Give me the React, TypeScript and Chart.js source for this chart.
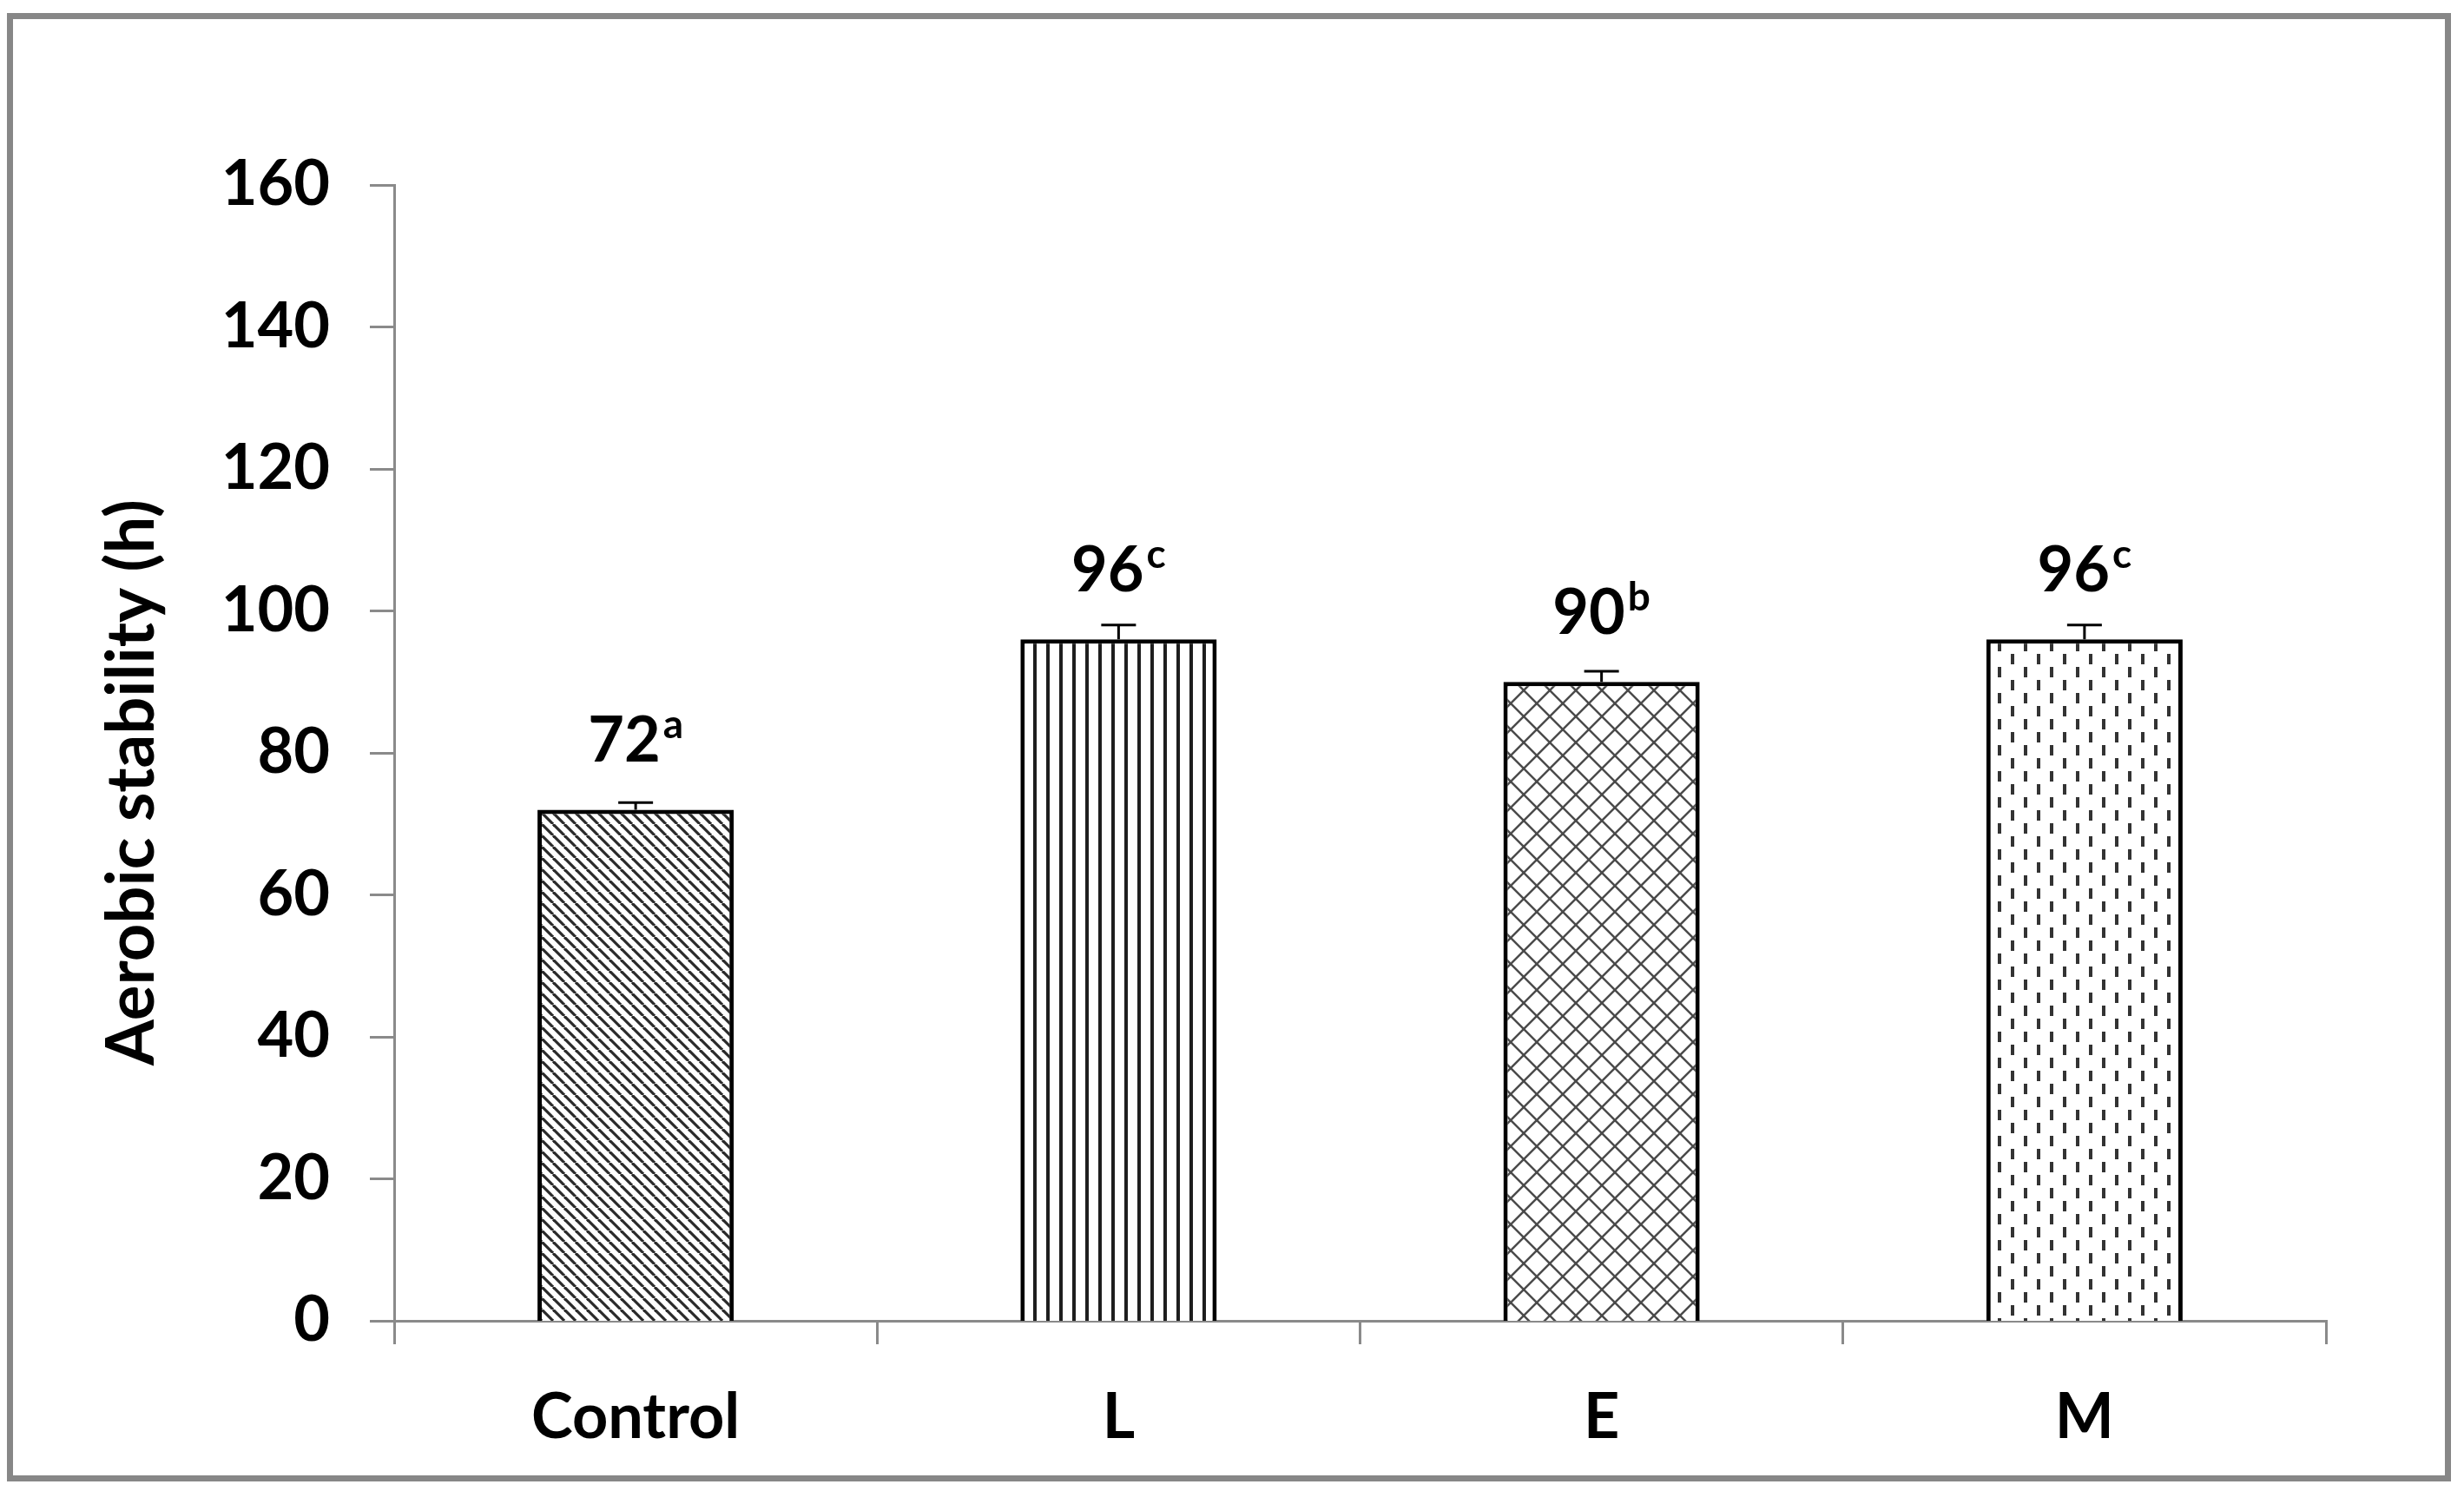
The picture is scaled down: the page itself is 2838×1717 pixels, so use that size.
import React, { useEffect, useRef } from 'react';
import { Chart, registerables } from 'chart.js';

Chart.register(...registerables);

const categories = ['Control', 'L', 'E', 'M'];
const values = [72, 96, 90, 96];
const errors = [1, 2, 1.5, 2];
const letters = ['a', 'c', 'b', 'c'];
const yMin = 0;
const yMax = 160;
const yStep = 20;
const yTitle = 'Aerobic stability (h)';

const FONT = 'Lato';
const AXIS_GRAY = '#8a8a8a';

function makePattern(kind: string): CanvasPattern | string {
  const tile = document.createElement('canvas');
  let size = 15;
  if (kind === 'diag') size = 13;
  if (kind === 'diamond' || kind === 'dash') size = 30;
  tile.width = size;
  tile.height = size;
  const c = tile.getContext('2d')!;
  c.fillStyle = '#ffffff';
  c.fillRect(0, 0, size, size);
  if (kind === 'diag') {
    c.strokeStyle = '#2a2a2a';
    c.lineWidth = 3.2;
    for (let k = -1; k <= 1; k++) {
      c.beginPath();
      c.moveTo(k * size, 0);
      c.lineTo(k * size + size, size);
      c.stroke();
    }
  } else if (kind === 'vert') {
    c.fillStyle = '#1e1e1e';
    c.fillRect(5, 0, 4, size);
  } else if (kind === 'diamond') {
    c.strokeStyle = '#4a4a4a';
    c.lineWidth = 2.5;
    for (let k = -1; k <= 1; k++) {
      c.beginPath();
      c.moveTo(k * size, 0);
      c.lineTo(k * size + size, size);
      c.stroke();
      c.beginPath();
      c.moveTo(k * size + size, 0);
      c.lineTo(k * size, size);
      c.stroke();
    }
  } else if (kind === 'dash') {
    c.fillStyle = '#333333';
    c.fillRect(6, 3, 4, 12);
    c.fillRect(21, 18, 4, 12);
  }
  return c.createPattern(tile, 'repeat') || '#ffffff';
}

const patternKinds = ['diag', 'vert', 'diamond', 'dash'];

export default function App() {
  const ref = useRef<HTMLCanvasElement | null>(null);

  useEffect(() => {
    document.body.style.margin = '0';
    document.body.style.overflow = 'hidden';
    let chart: Chart | null = null;
    let cancelled = false;

    const build = () => {
      if (cancelled || !ref.current) return;
      const fills = patternKinds.map((k) => makePattern(k));

      const framePlugin = {
        id: 'frame',
        beforeDraw(ch: any) {
          const ctx = ch.ctx;
          ctx.save();
          ctx.fillStyle = '#ffffff';
          ctx.fillRect(0, 0, ch.width, ch.height);
          ctx.restore();
        },
        afterDraw(ch: any) {
          const ctx = ch.ctx;
          ctx.save();
          ctx.strokeStyle = '#878787';
          ctx.lineWidth = 7;
          ctx.strokeRect(11.5, 18.5, 2808, 1684);
          // y axis title
          ctx.fillStyle = '#000000';
          ctx.font = `bold 76px ${FONT}`;
          ctx.textAlign = 'center';
          ctx.textBaseline = 'alphabetic';
          ctx.translate(177, 901);
          ctx.rotate(-Math.PI / 2);
          ctx.fillText(yTitle, 0, 0);
          ctx.restore();
        },
      };

      const annotPlugin = {
        id: 'annot',
        afterDatasetsDraw(ch: any) {
          const ctx = ch.ctx;
          const ys = ch.scales.y;
          const meta = ch.getDatasetMeta(0);
          ctx.save();
          meta.data.forEach((bar: any, i: number) => {
            const x = bar.x;
            const yBar = ys.getPixelForValue(values[i]);
            const yTop = ys.getPixelForValue(values[i] + errors[i]);
            ctx.strokeStyle = '#000000';
            ctx.lineWidth = 3;
            ctx.beginPath();
            ctx.moveTo(x, yBar);
            ctx.lineTo(x, yTop);
            ctx.moveTo(x - 20, yTop);
            ctx.lineTo(x + 20, yTop);
            ctx.stroke();

            const main = String(values[i]);
            const sup = letters[i];
            ctx.font = `bold 72px ${FONT}`;
            const w1 = ctx.measureText(main).width;
            ctx.font = `bold 46px ${FONT}`;
            const w2 = ctx.measureText(sup).width;
            const start = x - (w1 + w2 + 3) / 2;
            const base = yBar - 55;
            ctx.fillStyle = '#000000';
            ctx.textAlign = 'left';
            ctx.textBaseline = 'alphabetic';
            ctx.font = `bold 72px ${FONT}`;
            ctx.fillText(main, start, base);
            ctx.font = `bold 46px ${FONT}`;
            ctx.fillText(sup, start + w1 + 3, base - 27);
          });
          ctx.restore();
        },
      };

      chart = new Chart(ref.current, {
        type: 'bar',
        data: {
          labels: categories,
          datasets: [
            {
              data: values,
              backgroundColor: fills as any,
              borderColor: '#000000',
              borderWidth: 5,
              borderSkipped: false,
              base: -0.6,
              barPercentage: 0.4065,
              categoryPercentage: 1,
            } as any,
          ],
        },
        options: {
          animation: false,
          responsive: false,
          devicePixelRatio: 1,
          layout: { padding: { left: 0, top: 213, right: 159, bottom: 0 } },
          plugins: {
            legend: { display: false },
            tooltip: { enabled: false },
          },
          scales: {
            x: {
              type: 'category',
              offset: true,
              grid: {
                display: true,
                offset: true,
                drawOnChartArea: false,
                drawTicks: true,
                tickLength: 27,
                color: AXIS_GRAY,
                lineWidth: 3,
              },
              border: { display: true, color: AXIS_GRAY, width: 3 },
              ticks: {
                color: '#000000',
                font: { family: FONT, weight: 'bold', size: 72 },
                padding: 42,
              },
              afterFit(scale: any) {
                scale.height = 196;
              },
            },
            y: {
              min: yMin,
              max: yMax,
              grid: {
                display: true,
                drawOnChartArea: false,
                drawTicks: true,
                tickLength: 28,
                color: AXIS_GRAY,
                lineWidth: 3,
              },
              border: { display: true, color: AXIS_GRAY, width: 3 },
              ticks: {
                stepSize: yStep,
                color: '#000000',
                font: { family: FONT, weight: 'bold', size: 72 },
                padding: 46,
              },
              title: { display: false },
              afterFit(scale: any) {
                scale.width = 454;
              },
            },
          },
        },
        plugins: [framePlugin, annotPlugin],
      });
    };

    const fontsReady = (document as any).fonts
      ? Promise.all([
          (document as any).fonts.load(`bold 72px ${FONT}`),
          (document as any).fonts.load(`bold 76px ${FONT}`),
          (document as any).fonts.load(`bold 46px ${FONT}`),
        ]).catch(() => null)
      : Promise.resolve(null);
    fontsReady.then(build);

    return () => {
      cancelled = true;
      if (chart) chart.destroy();
    };
  }, []);

  return (
    <canvas
      ref={ref}
      width={2838}
      height={1717}
      style={{ display: 'block', width: 2838, height: 1717 }}
    />
  );
}
